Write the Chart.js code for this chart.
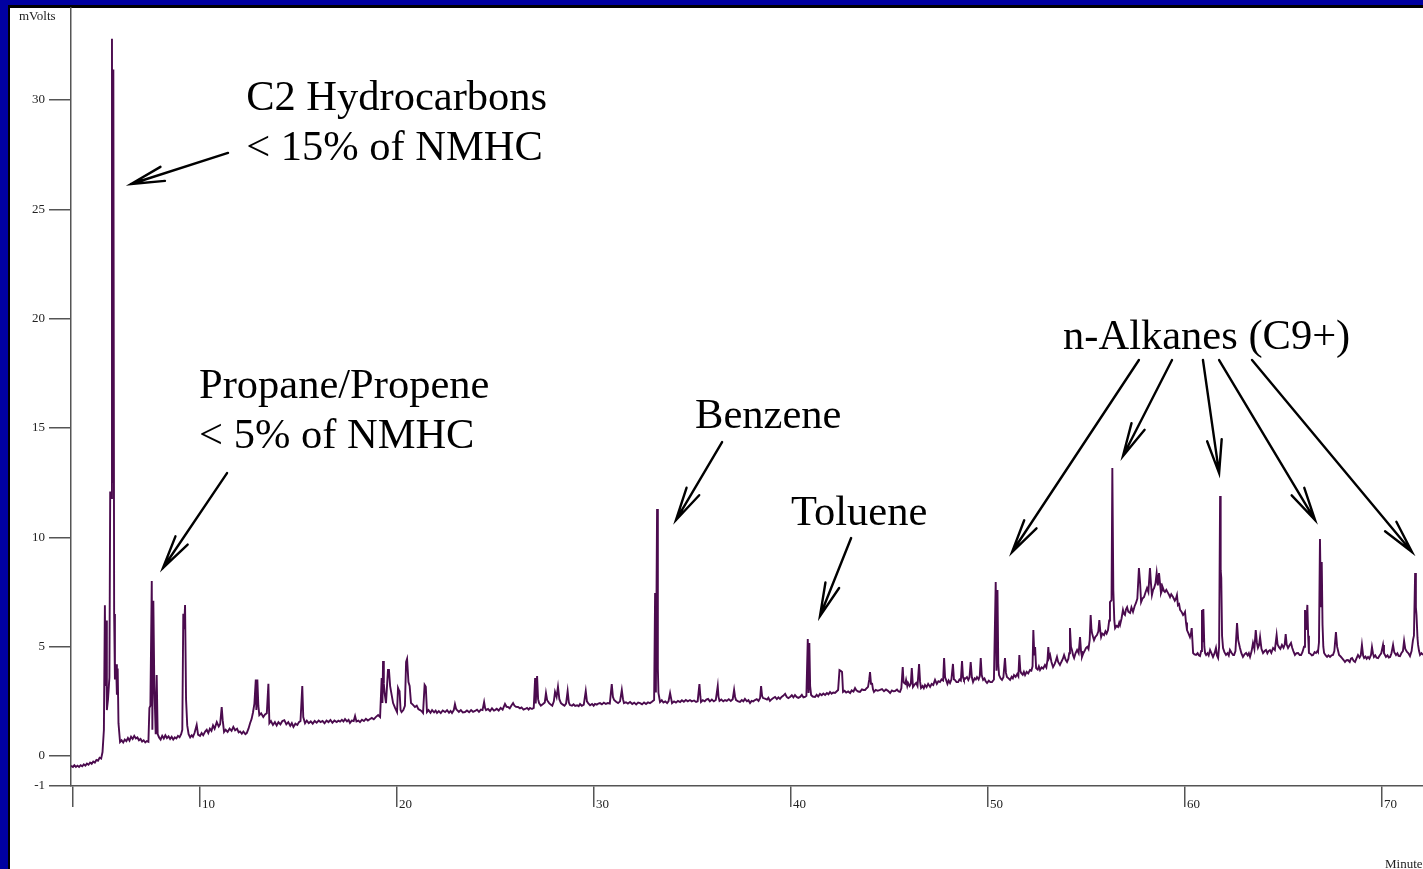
<!DOCTYPE html>
<html><head><meta charset="utf-8">
<script src="https://cdn.jsdelivr.net/npm/chart.js@4.4.0/dist/chart.umd.min.js"></script>
<style>html,body{margin:0;padding:0;background:#fff;overflow:hidden}canvas{display:block}</style>
</head><body>
<canvas id="c" width="1423" height="869"></canvas>
<script>
// Retention time (minutes) and detector signal (mVolts)
const minutes = [
3.45,3.55,3.62,3.70,3.78,3.86,3.94,4.02,4.10,4.18,4.26,4.34,4.42,4.50,4.58,4.66,4.74,4.82,4.90,4.98,
5.05,5.12,5.17,5.20,5.23,5.27,5.33,5.40,5.44,5.49,5.53,5.56,5.60,5.64,5.68,5.74,5.78,5.82,5.86,5.94,
6.02,6.10,6.18,6.26,6.34,6.42,6.50,6.58,6.66,6.74,6.82,6.90,6.98,7.06,7.14,7.22,7.30,7.38,7.43,7.48,
7.55,7.58,7.63,7.68,7.75,7.80,7.85,7.92,8.00,8.08,8.16,8.24,8.32,8.40,8.48,8.56,8.64,8.72,8.80,8.88,
8.96,9.04,9.10,9.15,9.19,9.24,9.29,9.35,9.42,9.50,
9.58,9.64,9.72,9.83,9.90,10.0,10.08,10.16,10.26,10.34,10.42,10.50,10.58,10.66,10.74,10.85,10.95,11.02,11.10,11.15,
11.22,11.30,11.40,11.50,11.60,11.69,11.78,11.88,11.96,12.03,12.12,12.20,12.30,12.37,12.46,12.54,12.62,12.69,12.76,12.83,
12.86,12.91,12.96,13.01,13.10,13.21,13.30,13.39,13.47,13.52,13.60,13.70,13.80,13.89,13.98,14.08,14.18,14.28,14.38,14.48,
14.58,14.66,14.74,14.84,14.94,15.02,15.10,15.19,15.24,15.33,15.42,15.52,15.62,15.72,15.82,15.92,16.02,16.12,16.22,16.32,
16.42,16.52,16.62,16.72,16.82,16.94,17.02,17.11,17.20,17.28,17.36,17.46,17.54,17.61,17.70,17.80,17.87,17.94,18.04,18.12,
18.22,18.32,18.42,18.52,18.63,18.72,18.82,18.92,19.04,19.14,19.22,19.26,19.29,19.33,19.37,19.44,19.54,19.59,19.65,19.70,
19.80,19.90,20.00,20.05,20.10,20.13,20.18,20.23,20.32,20.40,20.46,20.51,20.58,20.64,20.71,20.80,20.91,21.00,21.08,21.17,
21.25,21.32,21.40,21.46,21.52,21.60,21.70,21.78,21.88,21.96,22.03,22.12,22.22,22.32,22.44,22.54,22.64,22.72,22.79,22.88,
22.94,23.00,23.05,23.14,23.24,23.34,23.45,23.55,23.66,23.76,23.86,23.96,24.06,24.16,24.26,24.34,24.42,24.47,24.52,24.62,
24.72,24.82,24.92,24.97,25.06,25.16,25.26,25.36,25.48,25.56,25.63,25.72,25.80,25.89,25.96,26.04,26.14,26.24,26.32,26.42,
26.50,26.60,26.68,26.75,26.85,26.94,27.01,27.04,27.11,27.16,27.21,27.30,27.41,27.50,27.56,27.62,27.72,27.80,27.88,27.96,
28.02,28.10,28.17,28.24,28.32,28.40,28.50,28.58,28.66,28.72,28.78,28.88,28.96,29.04,29.14,29.22,29.29,29.38,29.48,29.58,
29.64,29.70,29.80,29.90,29.98,30.05,30.14,30.22,30.30,30.40,30.50,30.60,30.70,30.80,30.90,30.96,31.02,31.12,31.22,31.32,
31.41,31.47,31.52,31.62,31.72,31.83,31.94,32.04,32.14,32.24,32.34,32.44,32.54,32.64,32.74,32.84,32.94,33.05,33.10,33.14,
33.20,33.24,33.27,33.35,33.44,33.52,33.62,33.71,33.78,33.86,33.92,33.96,34.06,34.16,34.26,34.37,34.46,34.56,34.66,34.76,
34.87,34.96,35.08,35.18,35.26,35.35,35.40,35.43,35.52,35.62,35.70,35.79,35.88,35.98,36.08,36.18,36.28,36.32,36.37,36.46,
36.56,36.65,36.74,36.84,36.94,37.04,37.11,37.16,37.21,37.32,37.41,37.50,37.58,37.66,37.76,37.84,37.92,38.00,38.08,38.17,
38.26,38.35,38.43,38.48,38.53,38.58,38.68,38.78,38.85,38.93,39.02,39.10,39.19,39.28,39.36,39.44,39.52,39.60,39.70,39.78,
39.86,39.95,40.04,40.12,40.20,40.28,40.37,40.46,40.55,40.63,40.71,40.78,40.85,40.89,40.93,40.97,41.02,41.10,41.22,41.30,
41.38,41.47,41.56,41.64,41.73,41.82,41.90,41.98,42.06,42.14,42.23,42.31,42.39,42.46,42.52,42.59,42.64,42.72,42.80,42.90,
43.00,43.08,43.17,43.25,43.32,43.41,43.50,43.60,43.68,43.76,43.84,43.91,43.97,44.01,44.06,44.11,44.16,44.21,44.30,44.40,
44.52,44.62,44.72,44.82,44.92,45.03,45.12,45.20,45.28,45.38,45.46,45.53,45.60,45.67,45.71,45.74,45.80,45.84,45.90,45.94,
46.02,46.08,46.13,46.19,46.26,46.35,46.42,46.50,46.55,46.60,46.68,46.74,46.80,46.88,46.96,47.06,47.14,47.22,47.31,47.40,
47.48,47.56,47.64,47.72,47.77,47.82,47.87,47.94,48.00,48.07,48.14,48.22,48.27,48.32,48.40,48.48,48.55,48.62,48.68,48.73,
48.78,48.86,48.93,49.00,49.06,49.12,49.18,49.24,49.32,49.38,49.44,49.52,49.58,49.63,49.68,49.75,49.82,49.88,49.95,50.04,
50.12,50.20,50.30,50.39,50.43,50.48,50.52,50.56,50.64,50.71,50.78,50.86,50.91,50.96,51.04,51.12,51.20,51.26,51.32,51.40,
51.48,51.54,51.59,51.64,51.68,51.76,51.82,51.88,51.96,52.04,52.13,52.20,52.26,52.30,52.35,52.39,52.44,52.52,52.58,52.64,
52.72,52.80,52.89,52.96,53.02,53.06,53.10,53.15,53.22,53.30,53.38,53.44,53.50,53.56,53.65,53.72,53.80,53.86,53.94,54.01,
54.08,54.12,54.16,54.21,54.26,54.32,54.37,54.44,54.52,54.60,54.67,54.72,54.77,54.84,54.90,54.97,55.04,55.10,55.16,55.21,
55.25,55.28,55.33,55.38,55.45,55.53,55.60,55.65,55.70,55.74,55.80,55.89,55.96,56.02,56.09,56.15,56.19,56.27,56.31,56.36,
56.41,56.45,56.52,56.60,56.66,56.70,56.78,56.85,56.90,56.95,57.00,57.06,57.12,57.21,57.28,57.36,57.44,57.51,57.58,57.66,
57.72,57.77,57.84,57.92,58.00,58.07,58.14,58.22,58.27,58.32,58.38,58.43,58.50,58.56,58.62,58.68,58.73,58.78,58.84,58.88,
58.93,58.98,59.05,59.14,59.20,59.24,59.30,59.39,59.48,59.54,59.59,59.64,59.70,59.75,59.82,59.90,59.95,60.00,60.05,60.10,
60.18,60.25,60.30,60.34,60.38,60.41,60.48,60.56,60.64,60.70,60.76,60.82,60.86,60.90,60.93,60.98,61.02,61.07,61.14,61.20,
61.27,61.34,61.42,61.50,61.57,61.62,61.68,61.73,61.78,61.81,61.84,61.88,61.93,62.00,62.08,62.16,62.22,62.28,62.36,62.44,
62.49,62.56,62.64,62.70,62.79,62.86,62.94,63.02,63.10,63.18,63.24,63.30,63.38,63.45,63.52,63.59,63.65,63.70,63.76,63.81,
63.88,63.96,64.04,64.11,64.18,64.24,64.31,64.38,64.47,64.56,64.65,64.70,64.77,64.84,64.92,65.00,65.06,65.11,65.16,65.23,
65.30,65.38,65.44,65.50,65.58,65.66,65.74,65.82,65.89,65.96,66.04,66.09,66.14,66.21,66.25,66.29,66.36,66.44,66.50,66.58,
66.65,66.72,66.75,66.80,66.85,66.90,66.94,66.98,67.02,67.06,67.14,67.21,67.28,67.36,67.44,67.51,67.58,67.66,67.72,67.82,
67.90,67.97,68.04,68.12,68.20,68.27,68.36,68.42,68.48,68.56,68.63,68.70,68.78,68.86,68.92,68.98,69.04,69.09,69.16,69.22,
69.29,69.36,69.44,69.49,69.54,69.59,69.66,69.72,69.80,69.88,69.96,70.05,70.10,70.20,70.28,70.34,70.41,70.48,70.56,70.62,
70.71,70.78,70.84,70.91,70.98,71.06,71.12,71.18,71.27,71.34,71.42,71.50,71.57,71.62,71.68,71.72,71.75,71.80,71.83,71.88,
71.93,72.00,72.08
];
const mvolts = [
-0.45,-0.5,-0.42,-0.5,-0.44,-0.5,-0.42,-0.47,-0.38,-0.44,-0.35,-0.40,-0.30,-0.36,-0.25,-0.30,-0.18,-0.22,-0.08,-0.12,
0.18,1.2,6.9,3.2,6.2,2.1,2.6,3.6,12.1,11.8,32.8,12.5,31.4,6.5,3.5,4.2,2.8,4.0,1.5,0.64,
0.72,0.62,0.75,0.68,0.82,0.70,0.88,0.78,0.92,0.80,0.85,0.72,0.78,0.66,0.72,0.62,0.68,0.65,2.2,2.3,
8.0,1.2,7.1,3.2,1.0,3.7,1.0,0.85,0.75,0.92,0.80,0.95,0.82,0.90,0.78,0.88,0.75,0.85,0.80,0.92,
0.86,1.0,1.2,6.5,5.8,6.9,2.6,1.4,1.0,0.85,
0.95,0.88,1.05,1.42,0.98,0.92,1.05,0.95,1.12,1.2,1.05,1.25,1.15,1.4,1.25,1.55,1.35,1.45,2.24,1.64,
1.1,1.2,1.1,1.25,1.15,1.33,1.18,1.25,1.08,1.12,1.02,1.12,1.0,1.05,1.25,1.5,1.7,2.0,2.4,3.5,
2.1,3.5,2.3,1.87,1.95,1.78,1.9,1.96,3.3,1.5,1.6,1.42,1.55,1.4,1.55,1.45,1.6,1.64,1.45,1.55,
1.38,1.5,1.33,1.48,1.42,1.55,1.6,3.2,1.78,1.5,1.62,1.5,1.58,1.48,1.6,1.52,1.62,1.55,1.6,1.5,
1.62,1.55,1.65,1.52,1.62,1.55,1.62,1.57,1.65,1.58,1.69,1.58,1.65,1.51,1.62,1.6,1.83,1.58,1.62,1.55,
1.66,1.6,1.7,1.62,1.69,1.74,1.68,1.78,1.87,1.78,3.57,2.42,4.34,3.3,2.88,2.42,3.93,3.93,3.2,2.93,
2.42,2.2,2.01,3.11,3.0,2.93,2.10,2.01,2.1,2.3,4.30,4.44,3.38,3.2,2.42,2.35,2.24,2.3,2.15,2.10,
2.05,1.97,3.25,3.16,2.01,2.1,1.98,2.10,2.0,2.08,1.97,2.05,1.96,2.08,2.01,2.1,1.98,2.06,1.97,2.1,
2.37,2.15,2.10,2.02,2.1,1.99,2.01,2.08,2.0,2.1,2.02,2.06,2.12,2.02,2.12,2.1,2.47,2.2,2.10,2.15,
2.06,2.18,2.08,2.10,2.16,2.08,2.2,2.12,2.38,2.25,2.24,2.18,2.3,2.42,2.3,2.25,2.24,2.18,2.22,2.12,
2.15,2.2,2.12,2.20,2.15,2.2,3.57,2.4,3.66,2.6,2.42,2.3,2.38,2.45,2.88,2.55,2.42,2.35,2.3,2.5,
2.93,2.7,3.16,2.6,2.42,2.36,2.3,2.4,2.97,2.45,2.33,2.3,2.36,2.29,2.32,2.28,2.38,2.3,2.35,2.97,
2.5,2.42,2.32,2.38,2.3,2.38,2.35,2.4,2.42,2.36,2.44,2.38,2.42,2.4,3.29,2.7,2.56,2.48,2.42,2.5,
3.02,2.6,2.42,2.46,2.4,2.47,2.38,2.44,2.36,2.44,2.42,2.36,2.45,2.38,2.45,2.42,2.48,2.56,7.45,2.9,
11.3,4.0,2.88,2.47,2.55,2.45,2.5,2.42,2.5,2.88,2.6,2.42,2.5,2.44,2.52,2.47,2.55,2.48,2.56,2.5,
2.56,2.5,2.54,2.47,2.5,3.29,2.7,2.47,2.55,2.5,2.58,2.61,2.5,2.58,2.5,2.56,3.20,2.7,2.52,2.58,
2.5,2.56,2.52,2.6,2.52,2.6,3.02,2.7,2.56,2.5,2.47,2.56,2.5,2.61,2.5,2.55,2.42,2.52,2.5,2.56,
2.6,2.52,2.65,3.2,2.75,2.65,2.62,2.58,2.66,2.52,2.6,2.65,2.7,2.6,2.68,2.61,2.7,2.75,2.84,2.7,
2.65,2.7,2.78,2.68,2.79,2.7,2.66,2.7,2.8,2.68,2.7,2.75,5.35,2.88,5.17,3.2,2.79,2.72,2.7,2.8,
2.72,2.84,2.78,2.86,2.79,2.88,2.82,2.93,2.85,2.9,2.88,2.95,3.02,3.93,3.9,3.84,2.93,2.98,2.9,2.95,
2.88,3.0,2.95,3.11,3.0,2.95,2.93,3.05,3.02,3.02,3.1,3.16,3.5,3.84,3.3,3.34,3.05,2.93,3.02,2.98,
3.02,3.06,2.96,3.04,2.98,2.88,3.0,2.96,2.97,3.04,2.95,2.93,3.1,4.07,3.4,3.34,3.3,3.48,3.2,3.34,
3.2,3.3,4.02,3.16,3.25,3.34,3.2,4.21,3.4,3.11,3.2,3.1,3.25,3.15,3.3,3.16,3.3,3.25,3.48,3.3,
3.42,3.38,3.5,3.45,4.48,3.6,3.48,3.3,3.45,3.34,3.5,4.21,3.5,3.48,3.38,3.38,3.5,3.45,4.34,3.6,
3.48,3.55,3.61,3.48,3.6,4.30,3.6,3.38,3.55,3.5,3.61,3.5,3.65,4.48,3.7,3.48,3.55,3.42,3.34,3.45,
3.38,3.38,3.5,7.96,3.9,7.59,4.2,3.70,3.55,3.48,3.6,4.48,3.8,3.61,3.55,3.48,3.62,3.55,3.70,3.62,
3.75,3.65,4.62,3.9,3.80,3.72,3.85,3.70,3.85,3.78,3.93,3.9,4.1,5.76,4.6,4.98,4.02,3.95,4.1,3.93,
4.05,4.0,4.16,4.05,4.4,4.98,4.5,4.62,4.3,4.07,4.2,4.35,4.53,4.3,4.16,4.3,4.45,4.62,4.4,4.30,
4.45,4.7,5.85,5.0,4.85,4.6,4.48,4.7,4.85,4.7,5.44,4.8,4.53,4.7,4.8,4.94,5.0,4.9,5.3,6.45,
5.8,5.62,5.45,5.30,5.45,5.53,5.7,6.22,5.7,5.44,5.6,5.53,5.7,5.6,5.76,6.2,7.04,7.13,13.17,7.59,
6.2,5.85,5.95,5.90,6.1,5.99,6.3,6.68,6.5,6.45,6.7,6.81,6.6,6.54,6.8,6.59,6.85,7.0,7.2,8.60,
7.91,7.04,7.2,7.27,7.5,7.68,7.5,8.60,7.9,7.36,7.6,7.68,7.9,8.37,7.8,8.37,7.9,7.45,7.6,7.68,
7.55,7.50,7.6,7.45,7.35,7.27,7.4,7.27,7.1,7.2,7.36,6.9,6.95,6.68,6.6,6.45,6.5,6.59,6.1,5.76,
5.6,5.44,5.6,5.85,5.2,4.71,4.65,4.62,4.7,4.6,4.57,4.8,6.68,5.2,6.72,5.0,4.7,4.62,4.7,4.6,
4.85,4.7,4.53,4.7,4.94,4.6,4.48,5.0,11.89,8.5,8.14,5.5,4.94,4.75,4.62,4.7,4.6,4.85,4.72,4.62,
4.62,4.8,6.08,5.3,4.94,4.7,4.53,4.65,4.71,4.6,4.7,4.53,4.8,5.17,4.9,5.76,5.17,4.95,5.08,5.44,
4.9,4.71,4.8,4.85,4.7,4.8,4.84,4.72,4.94,4.85,5.53,5.1,4.98,4.9,5.08,4.95,5.1,5.58,5.1,4.94,
5.05,5.17,4.95,4.8,4.62,4.7,4.71,4.62,4.62,4.75,5.0,6.68,5.76,6.91,5.5,4.71,4.68,4.6,4.62,4.75,
4.71,4.8,4.76,5.2,9.92,6.8,8.87,6.0,5.0,4.71,4.6,4.53,4.6,4.53,4.6,4.62,4.8,5.67,5.0,4.62,
4.55,4.48,4.4,4.30,4.38,4.39,4.3,4.45,4.48,4.35,4.30,4.45,4.62,4.5,4.6,5.08,4.6,4.48,4.55,4.45,
4.53,4.45,4.62,4.98,4.7,4.53,4.6,4.5,4.48,4.6,4.7,5.08,4.7,4.53,4.6,4.5,4.53,4.7,5.08,4.75,
4.62,4.7,4.58,4.57,4.7,4.8,5.26,4.9,4.76,4.7,4.57,4.8,5.30,5.5,8.37,6.8,6.45,5.4,5.08,4.8,
4.62,4.7,4.62
];
const xTickValues = [3.55, 10, 20, 30, 40, 50, 60, 70];
const xTickLabels = ['', '10', '20', '30', '40', '50', '60', '70'];
const yTickValues = [-1.372, 0, 5, 10, 15, 20, 25, 30];
const yTickLabels = ['-1', '0', '5', '10', '15', '20', '25', '30'];
const yAxisTitle = 'mVolts';
const xAxisTitle = 'Minutes';

// Callout texts [lines], anchored in data units (minutes, mVolts)
const calloutLines = [
  ['C2 Hydrocarbons', '< 15% of NMHC'],
  ['Propane/Propene', '< 5% of NMHC'],
  ['Benzene'],
  ['Toluene'],
  ['n-Alkanes (C9+)']
];
const calloutAt = [[12.34, 29.54], [9.95, 16.37], [35.13, 15.0], [40.0, 10.56], [53.81, 18.61]];
// Arrows: [fromMinute, fromMv, toMinute, toMv]
const arrows = [
  [11.42, 27.58, 6.50, 26.16],
  [11.37, 12.94, 8.12, 8.60],
  [36.50, 14.36, 34.16, 10.79],
  [43.05, 9.97, 41.47, 6.40],
  [57.66, 18.11, 51.22, 9.33],
  [59.34, 18.11, 56.85, 13.72],
  [60.91, 18.11, 61.73, 12.94],
  [61.73, 18.11, 66.60, 10.79],
  [63.40, 18.11, 71.52, 9.33]
];

const SERIF = '"Liberation Serif", "Times New Roman", serif';
const AXIS = '#555';

const framePlugin = {
  id: 'frame',
  beforeDraw(chart) {
    const c = chart.ctx, W = chart.width, H = chart.height;
    c.save();
    c.fillStyle = '#fff'; c.fillRect(0, 0, W, H);
    c.fillStyle = '#0000a0'; c.fillRect(0, 0, 8, H); c.fillRect(0, 0, W, 5);
    c.fillStyle = '#000'; c.fillRect(8, 5, 2, H); c.fillRect(8, 5, W, 3);
    c.restore();
  },
  afterDraw(chart) {
    const c = chart.ctx, x = chart.scales.x, y = chart.scales.y, ca = chart.chartArea;
    c.save();
    c.fillStyle = '#222';
    c.font = '13px ' + SERIF;
    c.textBaseline = 'middle';
    c.textAlign = 'left';
    c.fillText(yAxisTitle, ca.left - 52, ca.top + 9);
    c.fillText(xAxisTitle, ca.right - 38, ca.bottom + 79);
    // callouts
    c.fillStyle = '#000';
    c.font = '42.5px ' + SERIF;
    c.textBaseline = 'alphabetic';
    calloutLines.forEach((lines, i) => {
      const px = x.getPixelForValue(calloutAt[i][0]);
      const py = y.getPixelForValue(calloutAt[i][1]);
      lines.forEach((t, k) => c.fillText(t, px, py + k * 50));
    });
    c.strokeStyle = '#000';
    c.lineWidth = 2.4;
    c.lineCap = 'round';
    arrows.forEach(a => {
      const sx = x.getPixelForValue(a[0]), sy = y.getPixelForValue(a[1]);
      const ex = x.getPixelForValue(a[2]), ey = y.getPixelForValue(a[3]);
      const ang = Math.atan2(sy - ey, sx - ex);
      const L = 34, sp = 12.5 * Math.PI / 180;
      c.beginPath();
      c.moveTo(sx, sy); c.lineTo(ex, ey);
      c.moveTo(ex + L * Math.cos(ang + sp), ey + L * Math.sin(ang + sp));
      c.lineTo(ex, ey);
      c.lineTo(ex + L * Math.cos(ang - sp), ey + L * Math.sin(ang - sp));
      c.stroke();
    });
    c.restore();
  }
};

new Chart(document.getElementById('c'), {
  type: 'line',
  data: {
    datasets: [{
      data: minutes.map((m, i) => ({ x: m, y: mvolts[i] })),
      borderColor: '#4b0b4e',
      borderWidth: 1.9,
      pointRadius: 0,
      tension: 0,
      fill: false
    }]
  },
  options: {
    responsive: false,
    animation: false,
    devicePixelRatio: 1,
    layout: { padding: { left: 0, top: 8, right: 0, bottom: 0 } },
    plugins: { legend: { display: false }, tooltip: { enabled: false } },
    scales: {
      x: {
        type: 'linear', min: 3.45, max: 72.08,
        afterBuildTicks: s => { s.ticks = xTickValues.map(v => ({ value: v })); },
        afterFit: s => { s.height = 83; s.paddingLeft = 0; s.paddingRight = 0; },
        ticks: {
          autoSkip: false, maxRotation: 0, align: 'start', padding: -10, labelOffset: 2,
          color: '#222', font: { family: SERIF, size: 13 },
          callback: (v, i) => xTickLabels[i]
        },
        grid: { drawOnChartArea: false, drawTicks: true, tickLength: 21, color: AXIS, lineWidth: 1.5 },
        border: { display: true, color: AXIS, width: 1.5 }
      },
      y: {
        type: 'linear', min: -1.372, max: 34.21,
        afterBuildTicks: s => { s.ticks = yTickValues.map(v => ({ value: v })); },
        afterFit: s => { s.width = 71; s.paddingTop = 0; s.paddingBottom = 0; },
        ticks: {
          autoSkip: false, padding: 4,
          color: '#222', font: { family: SERIF, size: 13 },
          callback: (v, i) => yTickLabels[i]
        },
        grid: { drawOnChartArea: false, drawTicks: true, tickLength: 22, color: AXIS, lineWidth: 1.5 },
        border: { display: true, color: AXIS, width: 1.5 }
      }
    }
  },
  plugins: [framePlugin]
});
</script>
</body></html>
